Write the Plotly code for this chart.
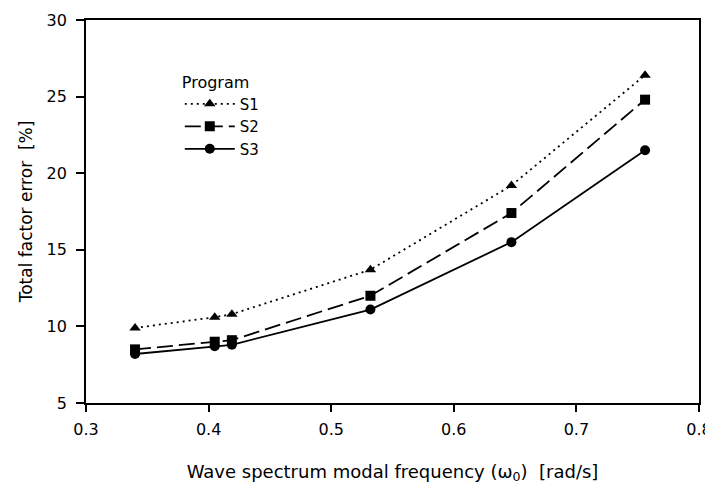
import plotly.graph_objects as go

freq = [0.34, 0.405, 0.419, 0.532, 0.647, 0.756]
s1 = [9.9, 10.6, 10.8, 13.7, 19.2, 26.4]
s2 = [8.5, 9.0, 9.1, 12.0, 17.4, 24.8]
s3 = [8.2, 8.7, 8.8, 11.1, 15.5, 21.5]

series = [
    ("S1", s1, "2px,4px", "triangle-up"),
    ("S2", s2, "16px,6px", "square"),
    ("S3", s3, "solid", "circle"),
]

fig = go.Figure()
for name, vals, dash, sym in series:
    fig.add_trace(go.Scatter(
        x=freq, y=vals, name=name, mode="lines+markers",
        line=dict(color="black", width=1.8, dash=dash),
        marker=dict(symbol=sym, size=10, color="black"),
    ))

font_family = "DejaVu Sans, Liberation Sans, Arial, sans-serif"
fig.update_layout(
    width=713, height=485,
    margin=dict(l=78, r=22, t=12, b=90),
    paper_bgcolor="white", plot_bgcolor="white",
    font=dict(family=font_family, color="black", size=16),
    showlegend=True,
    legend=dict(
        x=0.153, y=0.878, xanchor="left", yanchor="top",
        bgcolor="rgba(0,0,0,0)",
        title=dict(text="Program", font=dict(size=16)),
        font=dict(size=15),
        tracegroupgap=0,
        itemwidth=50,
    ),
    xaxis=dict(
        range=[0.3, 0.8], dtick=0.1, tickformat=".1f",
        showgrid=False, zeroline=False, automargin=False,
        showline=True, linecolor="black", linewidth=1.8, mirror=True,
        ticks="outside", ticklen=7, tickcolor="black", tickwidth=1.5,
        ticklabelstandoff=4,
        tickfont=dict(size=16),
        title=dict(text="Wave spectrum modal frequency (ω<sub>0</sub>)  [rad/s]",
                   font=dict(size=18), standoff=27),
    ),
    yaxis=dict(
        range=[5, 30], dtick=5,
        showgrid=False, zeroline=False, automargin=False,
        showline=True, linecolor="black", linewidth=1.8, mirror=True,
        ticks="outside", ticklen=8, tickcolor="black", tickwidth=1.5,
        ticklabelstandoff=6,
        tickfont=dict(size=16),
        title=dict(text="Total factor error  [%]", font=dict(size=17), standoff=10),
    ),
)

fig.write_html("out.html")
